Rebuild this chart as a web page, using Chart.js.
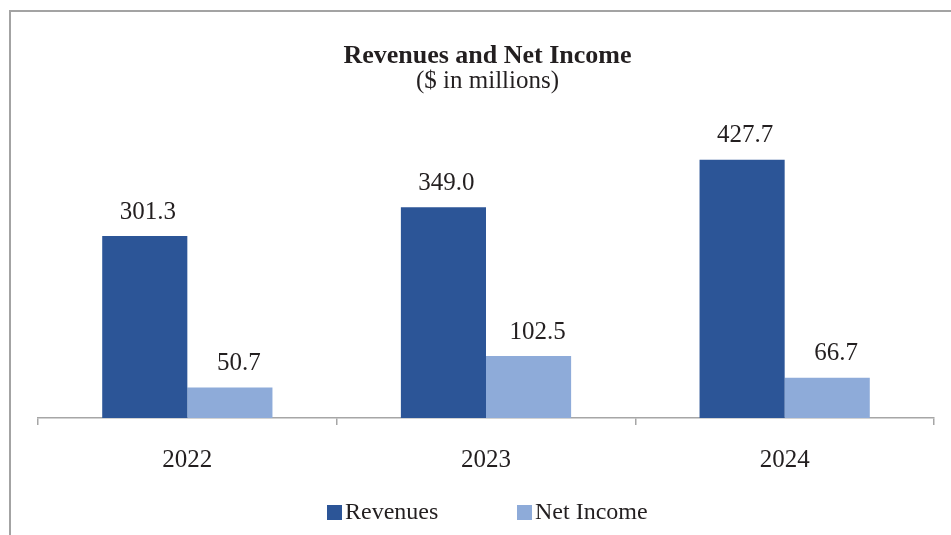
<!DOCTYPE html>
<html>
<head>
<meta charset="utf-8">
<script src="https://cdn.jsdelivr.net/npm/chart.js@4"></script>
<style>
  html, body { margin: 0; padding: 0; background: #ffffff; }
  #frame { position: absolute; left: 9px; top: 10px; width: 1100px; height: 700px;
           border-left: 2px solid #a3a3a3; border-top: 2px solid #a3a3a3; }
  canvas { position: absolute; left: 0; top: 0; }
</style>
</head>
<body>
<div id="frame"></div>
<canvas id="c" width="951" height="535"></canvas>
<script>
const categories = ['2022', '2023', '2024'];
const revenues = [301.3, 349.0, 427.7];
const netIncome = [50.7, 102.5, 66.7];
const seriesNames = ['Revenues', 'Net Income'];
const chartTitle = 'Revenues and Net Income';
const chartSubtitle = '($ in millions)';

const COL_REV = '#2C5597';
const COL_NI = '#8EABD9';
const SERIF = '"Liberation Serif", "Times New Roman", serif';
const TEXT_COL = '#231f20';

const overlay = {
  id: 'overlay',
  afterDatasetsDraw(chart) {
    const ctx = chart.ctx;
    ctx.save();
    ctx.fillStyle = TEXT_COL;
    ctx.textAlign = 'center';
    ctx.textBaseline = 'alphabetic';
    // titles
    ctx.font = 'bold 26px ' + SERIF;
    ctx.fillText(chartTitle, 487.5, 62.5);
    ctx.font = '25px ' + SERIF;
    ctx.fillText(chartSubtitle, 487.5, 87.5);
    // data labels
    ctx.font = '25px ' + SERIF;
    const offs = [3, 9];
    chart.data.datasets.forEach((ds, di) => {
      const meta = chart.getDatasetMeta(di);
      meta.data.forEach((bar, i) => {
        ctx.fillText(ds.data[i].toFixed(1), bar.x + offs[di], bar.y - 17.5);
      });
    });
    // legend
    ctx.font = '24px ' + SERIF;
    ctx.textAlign = 'left';
    const items = [{x: 327, c: COL_REV, t: seriesNames[0]}, {x: 517, c: COL_NI, t: seriesNames[1]}];
    items.forEach(it => {
      ctx.fillStyle = it.c;
      ctx.fillRect(it.x, 505, 15, 15);
      ctx.fillStyle = TEXT_COL;
      ctx.fillText(it.t, it.x + 18, 519);
    });
    ctx.restore();
  }
};

new Chart(document.getElementById('c'), {
  type: 'bar',
  data: {
    labels: categories,
    datasets: [
      { label: seriesNames[0], data: revenues, backgroundColor: COL_REV, borderWidth: 0,
        categoryPercentage: 0.57, barPercentage: 1.0 },
      { label: seriesNames[1], data: netIncome, backgroundColor: COL_NI, borderWidth: 0,
        categoryPercentage: 0.57, barPercentage: 1.0 }
    ]
  },
  options: {
    responsive: false,
    animation: false,
    devicePixelRatio: 1,
    layout: { padding: { left: 38, right: 17, top: 116, bottom: 47 } },
    plugins: { legend: { display: false }, title: { display: false }, tooltip: { enabled: false } },
    scales: {
      x: {
        offset: true,
        grid: { offset: true, drawOnChartArea: false, drawTicks: true, tickLength: 7,
                color: '#a6a6a6', lineWidth: 1.5 },
        border: { display: true, color: '#a6a6a6', width: 1.5 },
        ticks: { font: { family: SERIF, size: 25 }, color: TEXT_COL, padding: 20 },
        afterFit: s => { s.height = 70; }
      },
      y: { display: false, min: 0, max: 500 }
    }
  },
  plugins: [overlay]
});
</script>
</body>
</html>
